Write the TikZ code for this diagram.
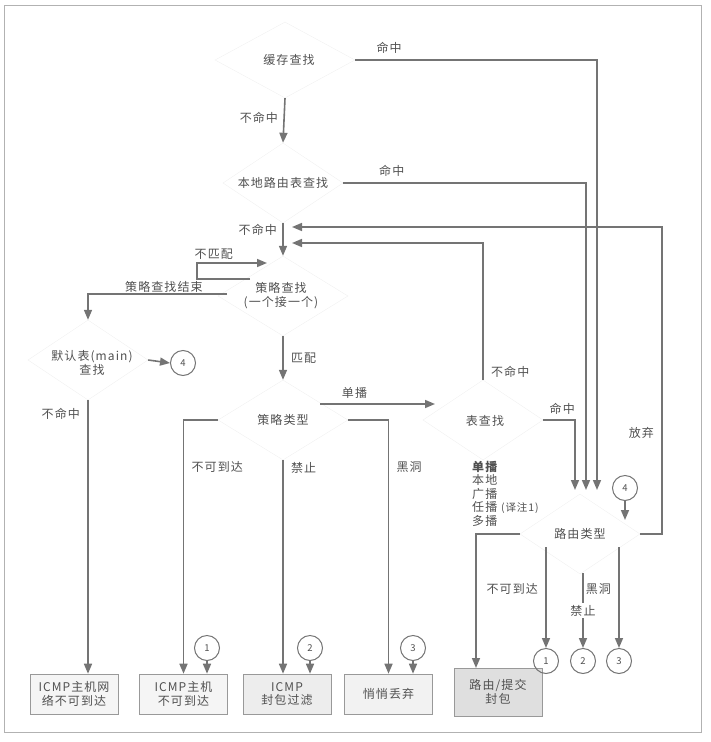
\documentclass[tikz,border=0pt]{standalone}
\usepackage{fontspec}
\setmainfont{Noto Sans CJK SC}[LetterSpace=9]
\usetikzlibrary{shapes.geometric,arrows.meta,calc}
\definecolor{ln}{HTML}{747474}
\definecolor{tx}{HTML}{505050}
\begin{document}
\begin{tikzpicture}[x=1pt,y=-1pt, font=\fontsize{12}{14}\selectfont, text=tx,
 ln/.style={draw=ln, line width=1.6pt},
 arr/.style={ln, -{Triangle[length=10pt,width=8pt]}},
 dia/.style={draw=black!6, shape=diamond, inner sep=0pt},
 box/.style={draw=gray!80, minimum width=88, minimum height=40, align=center, inner sep=1pt, line width=0.6pt, font=\fontsize{12}{13.5}\selectfont},
 num/.style={circle, draw=ln, line width=1pt, minimum size=25, inner sep=0pt, font=\fontsize{9.5}{10}\selectfont}]
\useasboundingbox (0,0) rectangle (710,742);
\draw[gray!60, line width=0.8pt] (4,5) rectangle (701,732);

% diamonds
\node[dia, minimum width=140, minimum height=76] (d1) at (285,60) {};
\node (t1) at (289,60) {缓存查找};
\node[dia, minimum width=120, minimum height=80] (d2) at (283,183) {};
\node (t2) at (283,183) {本地路由表查找};
\node[dia, minimum width=130, minimum height=80] (d3) at (283,296) {};
\node[align=center] (t3) at (281,296) {策略查找\\(一个接一个)};
\node[dia, minimum width=120, minimum height=80] (d4) at (88,360) {};
\node[align=center] (t4) at (92,363) {默认表(main)\\查找};
\node[dia, minimum width=130, minimum height=80] (d5) at (283,420) {};
\node (t5) at (283,420) {策略类型};
\node[dia, minimum width=120, minimum height=80] (d6) at (483,420) {};
\node (t6) at (485,421) {表查找};
\node[dia, minimum width=120, minimum height=80] (d7) at (580,534) {};
\node (t7) at (580,534) {路由类型};

% list text
\node[anchor=north west, align=left, inner sep=0pt, font=\fontsize{12}{13.5}\selectfont] (lst) at (472,461)
 {\textbf{单播}\\本地\\广播\\任播 {\fontsize{10.5}{13.5}\selectfont (译注1)}\\多播};

% boxes
\node[box, fill=gray!8] (b1) at (74,694) {ICMP主机网\\络不可到达};
\node[box, fill=gray!8] (b2) at (183.5,694) {ICMP主机\\不可到达};
\node[box, fill=gray!14] (b3) at (287,694) {ICMP\\封包过滤};
\node[box, fill=gray!10] (b4) at (388.5,694) {悄悄丢弃};
\node[box, fill=gray!25, minimum height=48] (b5) at (498,692) {路由/提交\\封包};

% numbered circles
\node[num] (c4a) at (183,363) {4};
\node[num] (c4b) at (625,488) {4};
\node[num] (q1) at (207,648) {1};
\node[num] (q2) at (310,648) {2};
\node[num] (q3) at (413,648) {3};
\node[num] (r1) at (546,661) {1};
\node[num] (r2) at (583,661) {2};
\node[num] (r3) at (619,661) {3};

% coordinates
\coordinate (in1) at (575,490);
\coordinate (in2) at (586,490);
\coordinate (in3) at (597,490);
\coordinate (ret1) at (292,227);
\coordinate (ret2) at (292,243);
\coordinate (k1) at (662,227);
\coordinate (nm1) at (250,279);
\coordinate (nm2) at (267,263);
\coordinate (pe) at (227,294);
\coordinate (u1) at (320,404);
\coordinate (u2) at (435,404);
\coordinate (b5in) at (476,668);
\coordinate (s1) at (546,547);
\coordinate (s2) at (583,573);
\coordinate (s3) at (619,547);

% connectors
\draw[arr] (d1.east) -| node[pos=0.07, above=2pt]{命中} (in3);
\draw[arr] (d1.south) -- node[left=2pt, pos=0.45]{不命中} (d2.north);
\draw[arr] (d2.east) -| node[pos=0.1, above=2pt]{命中} (in2);
\draw[arr] (d2.south) -- node[left=2pt, pos=0.2]{不命中} (d3.north);
\draw[arr] (d7.east) -| node[pos=0.665, left=4pt]{放弃} (k1) -- (ret1);
\draw[arr] (d6.north) |- node[pos=0.03, right=4pt]{不命中} (ret2);
\draw[arr] (nm1) -- ++(-53,0) |- node[pos=0.62, yshift=9pt]{不匹配} (nm2);
\draw[arr] (pe) -| node[pos=0.227, yshift=7.5pt]{策略查找结束} (d4.north);
\draw[arr] (d3.south) -- node[right=4pt]{匹配} (d5.north);
\draw[arr] (d4.east) -- (c4a.west);
\draw[arr] (d4.south) -- node[pos=0.05, left=4pt]{不命中} (d4.south |- b1.north);
\draw[arr] (u1) -- node[above=1pt, pos=0.3]{单播} (u2);
\draw[arr] (d5.west) -| node[pos=0.593, right=4pt]{不可到达} (b2.north);
\draw[arr] (d5.south) -- node[pos=0.035, right=4pt]{禁止} (d5.south |- b3.north);
\draw[arr] (d5.east) -| node[pos=0.593, right=4pt]{黑洞} (b4.north);
\draw[arr] (d6.east) -| node[pos=0.3, above=1pt]{命中} (in1);
\draw[arr] (d7.west) -| (b5in);
\draw[arr] (c4b.south) -- ++(0,19);
\draw[arr] (s1) -- node[pos=0.42, left=4pt]{不可到达} (r1.north);
\draw[arr] (s2) -- node[pos=0.5, fill=white, inner sep=2pt]{禁止} (r2.north);
\draw[arr] (s3) -- node[pos=0.42, left=4pt]{黑洞} (r3.north);
\draw[arr] (q1.south) -- (q1.south |- b2.north);
\draw[arr] (q2.south) -- (q2.south |- b3.north);
\draw[arr] (q3.south) -- (q3.south |- b4.north);
\end{tikzpicture}
\end{document}
